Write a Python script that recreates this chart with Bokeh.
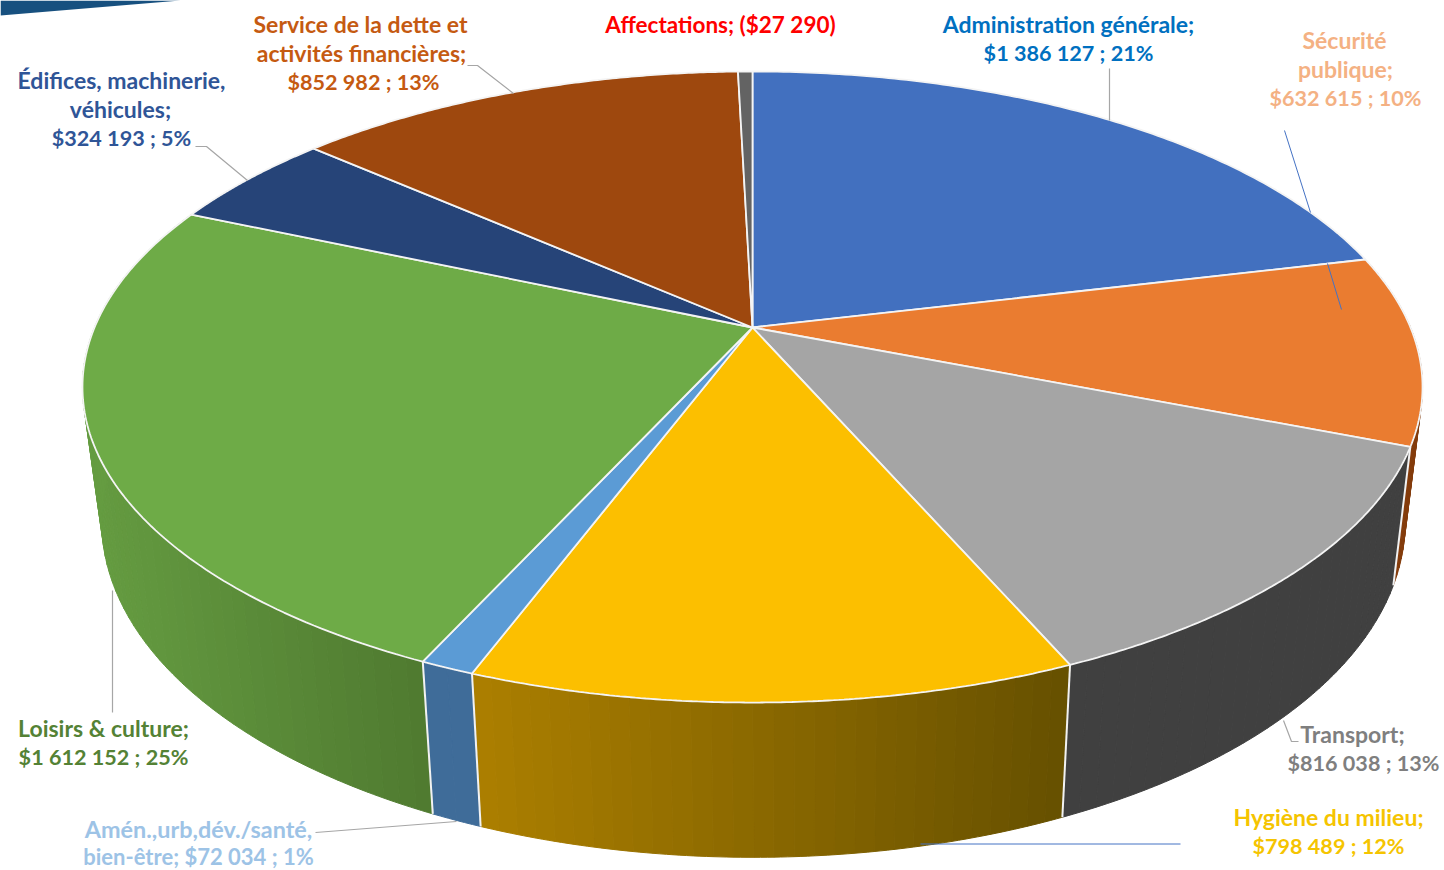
import numpy as np
from bokeh.plotting import figure
from bokeh.models import Range1d
from bokeh.core.properties import value
from bokeh.embed import file_html
from bokeh.resources import INLINE

# ---- data (clockwise from the top) ----
categories = ["Administration générale", "Sécurité publique", "Transport", "Hygiène du milieu",
              "Amén.,urb,dév./santé, bien-être", "Loisirs & culture",
              "Édifices, machinerie, véhicules", "Service de la dette et activités financières",
              "Affectations"]
amounts = [1386127, 632615, 816038, 798489, 72034, 1612152, 324193, 852982, 27290]

# ---- styles ----
top_colors = ["#4270BF", "#EA7C30", "#A5A5A5", "#FCBF00", "#5B9BD5", "#6EAB47", "#264478", "#9E480E", "#636363"]
wall_left = [None, "#843C0C", "#404040", "#AC7F00", "#3F6C99", "#659C41", None, None, None]
wall_right = [None, "#843C0C", "#404040", "#665000", "#3F6C99", "#4F7A30", None, None, None]

# ---- projection of the tilted disc to page pixels ----
K = -0.1886
TOP = dict(x0=752.0, y0=327.0, bx=658.0, by=304.3)
BOT = dict(x0=753.0, y0=458.0, bx=640.0, by=323.6)


def project(t, plane):
    sx, cy = np.sin(t), -np.cos(t)
    d = 1 + K * cy
    return plane["x0"] + plane["bx"] * sx / d, plane["y0"] + plane["by"] * cy / d


def hex2rgb(h):
    return np.array([int(h[i:i + 2], 16) for i in (1, 3, 5)], float)


def mix(a, b, f):
    c = hex2rgb(a) * (1 - f) + hex2rgb(b) * f
    return "#%02x%02x%02x" % tuple(int(round(v)) for v in c)


vals = np.array(amounts, float)
edges = np.concatenate([[0], np.cumsum(vals) / vals.sum()]) * 2 * np.pi

p = figure(width=1444, height=870, x_range=Range1d(0, 1444), y_range=Range1d(870, 0),
           toolbar_location=None, output_backend="svg", min_border=0, outline_line_color=None,
           background_fill_color="white", border_fill_color="white")
p.axis.visible = False
p.grid.visible = False

# slide header fragment, top-left
p.patch([0, 180, 0], [0, 0, 15], color="#17507F", line_width=0)

# side walls
for i, (c1, c2) in enumerate(zip(wall_left, wall_right)):
    if c1 is None:
        continue
    a, b = edges[i], edges[i + 1]
    n = max(2, int((b - a) / 0.025))
    ts = np.linspace(a, b, n + 1)
    xs, ys, cols = [], [], []
    xt, _ = project(ts, TOP)
    xl, xr = xt.min(), xt.max()
    for t0, t1 in zip(ts[:-1], ts[1:]):
        t_in = np.linspace(t0, t1, 4)
        tx, ty = project(t_in, TOP)
        bx, by = project(t_in, BOT)
        xs.append(list(tx) + list(bx[::-1]))
        ys.append(list(ty) + list(by[::-1]))
        f = (xr - tx.mean()) / (xr - xl)
        cols.append(mix(c2, c1, f) if c1 != c2 else c1)
    p.patches(xs, ys, fill_color=cols, line_color=cols, line_width=1)

# white seams between the walls
for t in edges[2:6]:
    x0, y0 = project(t, TOP)
    x1, y1 = project(t, BOT)
    p.segment([x0], [y0], [x1], [y1], line_color="#F2F2F2", line_width=2)

# top surface
for i, col in enumerate(top_colors):
    ts = np.linspace(edges[i], edges[i + 1], 120)
    x, y = project(ts, TOP)
    p.patch([TOP["x0"]] + list(x), [TOP["y0"]] + list(y), fill_color=col, line_color="#F4F4F4", line_width=1.8)

# leader lines
GREY = "#A6A6A6"
BLUE = "#4472C4"
p.line([1109, 1109], [68, 120], line_color=GREY, line_width=1.2)
p.line([467, 477, 513], [65, 65, 93], line_color=GREY, line_width=1.2)
p.line([195, 206, 247], [146, 146, 180], line_color=GREY, line_width=1.2)
p.line([112, 112], [590, 712], line_color=GREY, line_width=1.2)
p.line([1283, 1291, 1298], [720, 741, 741], line_color=GREY, line_width=1.2)
p.line([315, 456], [832, 821], line_color=GREY, line_width=1.2)
p.line([1284, 1310], [130, 212], line_color=BLUE, line_width=1)
p.line([1327, 1341], [263, 309], line_color=BLUE, line_width=1)
p.line([920, 1180], [843.5, 843.5], line_color=BLUE, line_width=1)

# labels: (text, centre x, centre y, colour, font px)
labels = [
    ("Service de la dette et", 360, 23, "#C55A11", 23),
    ("activités financières;", 361, 52, "#C55A11", 23),
    ("$852 982 ; 13%", 363, 81, "#C55A11", 21.6),
    ("Affectations; ($27 290)", 720, 24, "#FF0000", 22.5),
    ("Administration générale;", 1068, 23, "#0070C0", 23),
    ("$1 386 127 ; 21%", 1068, 52, "#0070C0", 21.6),
    ("Sécurité", 1344, 39, "#F4B183", 23),
    ("publique;", 1345, 68, "#F4B183", 23),
    ("$632 615 ; 10%", 1345, 97, "#F4B183", 21.6),
    ("Édifices, machinerie,", 121, 79, "#2F5597", 23),
    ("véhicules;", 120, 108, "#2F5597", 23),
    ("$324 193 ; 5%", 121, 137, "#2F5597", 21.6),
    ("Loisirs & culture;", 103, 727, "#548235", 23),
    ("$1 612 152 ; 25%", 103, 756, "#548235", 21.6),
    ("Amén.,urb,dév./santé,", 198, 828, "#9DC3E6", 23.4),
    ("bien-être; $72 034 ; 1%", 198, 856, "#9DC3E6", 22),
    ("Hygiène du milieu;", 1328, 816, "#F5C400", 23),
    ("$798 489 ; 12%", 1328, 845, "#F5C400", 21.6),
    ("Transport;", 1352, 733, "#7F7F7F", 23),
    ("$816 038 ; 13%", 1363, 762, "#7F7F7F", 21.6),
]
for txt, x, y, col, size in labels:
    p.text([x], [y], text=[txt], text_color=col, text_font=value("Lato"), text_font_style="bold",
           text_font_size=f"{size}px", text_align="center", text_baseline="middle")

open("out.html", "w").write(file_html(p, INLINE))
